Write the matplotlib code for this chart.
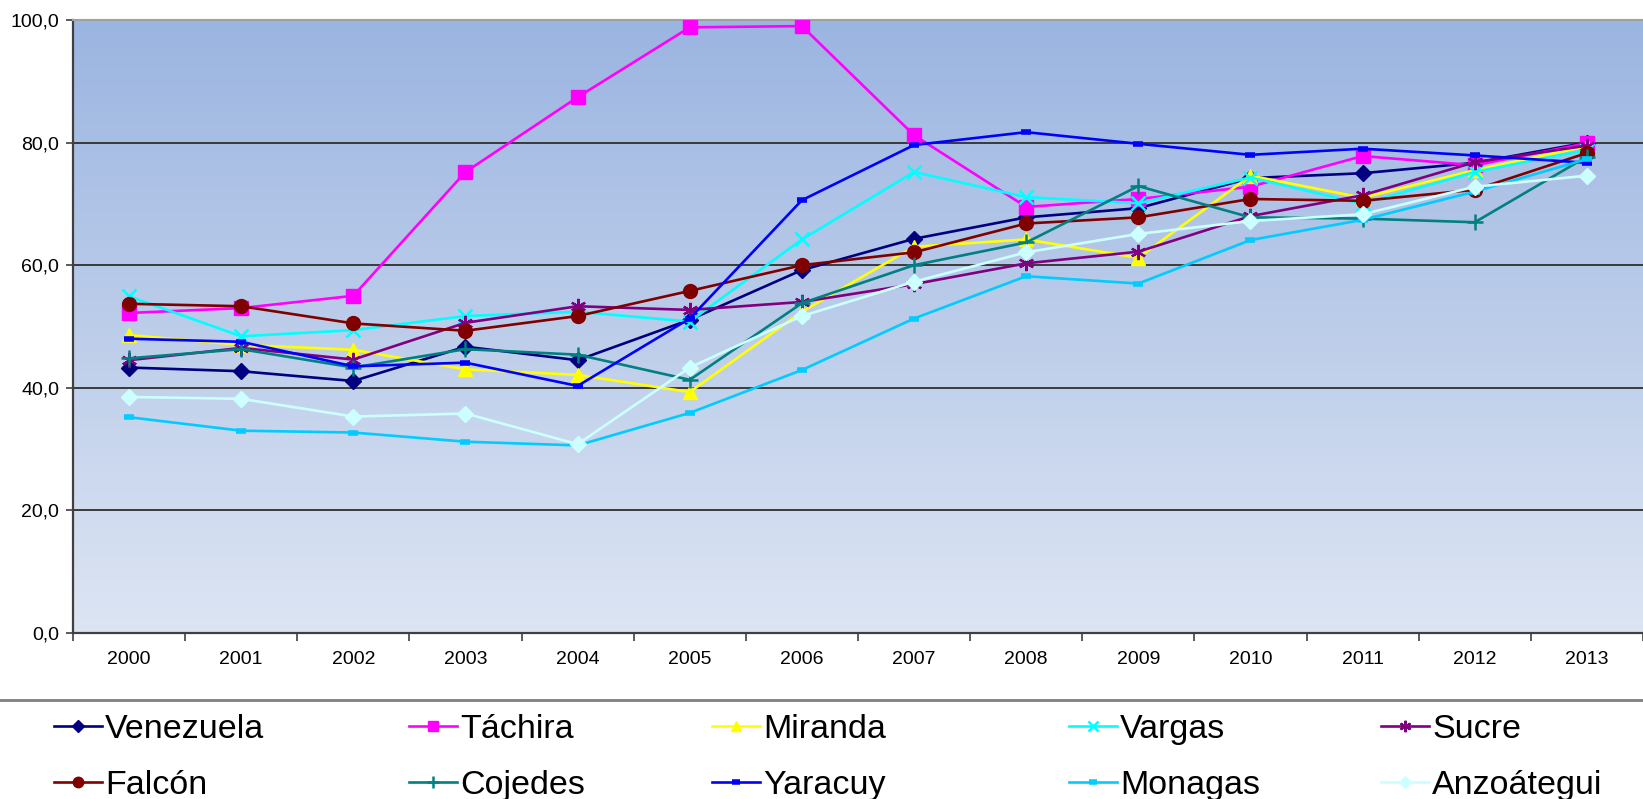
import numpy as np
import matplotlib.pyplot as plt
from matplotlib.lines import Line2D

years = ['2000', '2001', '2002', '2003', '2004', '2005', '2006',
         '2007', '2008', '2009', '2010', '2011', '2012', '2013']

venezuela = [43.3, 42.7, 41.1, 46.7, 44.5, 51.1, 59.2, 64.3, 67.8, 69.3, 74.2, 75.0, 76.7, 80.0]
tachira = [52.2, 53.0, 55.0, 75.2, 87.4, 98.8, 99.0, 81.2, 69.5, 70.8, 72.8, 77.8, 76.3, 79.9]
miranda = [48.6, 47.0, 46.2, 43.0, 42.1, 39.3, 52.4, 63.0, 64.2, 61.2, 74.6, 71.0, 75.5, 79.4]
vargas = [54.9, 48.4, 49.4, 51.7, 52.4, 50.8, 64.2, 75.2, 71.1, 70.1, 74.3, 70.0, 75.2, 78.8]
sucre = [44.5, 46.5, 44.6, 50.6, 53.3, 52.7, 54.0, 56.9, 60.3, 62.2, 68.0, 71.4, 76.8, 79.5]
falcon = [53.7, 53.3, 50.5, 49.3, 51.7, 55.8, 60.0, 62.1, 66.8, 67.8, 70.8, 70.5, 72.3, 78.3]
cojedes = [44.8, 46.3, 43.3, 46.3, 45.4, 41.3, 53.8, 60.0, 63.7, 72.9, 67.8, 67.6, 67.0, 77.7]
yaracuy = [48.0, 47.5, 43.5, 44.1, 40.3, 51.3, 70.6, 79.6, 81.7, 79.8, 78.0, 79.0, 77.9, 76.7]
monagas = [35.2, 33.0, 32.7, 31.2, 30.6, 35.9, 42.9, 51.3, 58.2, 57.0, 64.1, 67.4, 72.0, 77.3]
anzoategui = [38.5, 38.2, 35.3, 35.8, 30.8, 43.3, 51.7, 57.3, 62.1, 65.1, 67.2, 68.3, 72.8, 74.6]

names = ['Venezuela', 'Táchira', 'Miranda', 'Vargas', 'Sucre',
         'Falcón', 'Cojedes', 'Yaracuy', 'Monagas', 'Anzoátegui']
values = [venezuela, tachira, miranda, vargas, sucre,
          falcon, cojedes, yaracuy, monagas, anzoategui]
colors = ['#000080', '#FF00FF', '#FFFF00', '#00FFFF', '#800080',
          '#800000', '#008080', '#0000FF', '#00CCFF', '#CCFFFF']
markers = ['D', 's', '^', 'x', (6, 2, 0), 'o', '+', '_', '_', 'D']
msizes = [8, 10, 10, 10, 11, 10, 11, 7, 7, 8]
mews = [1, 1, 1, 1.8, 1.6, 1, 1.8, 4, 4, 1]

plt.rcParams['font.family'] = ['Liberation Sans', 'DejaVu Sans']

fig = plt.figure(figsize=(16.43, 7.99), dpi=100)
ax = fig.add_axes([0.0444, 0.2078, 0.9556, 0.7672])

# gradient background
grad = np.linspace(0, 1, 256)[:, None, None]
top = np.array([155, 181, 225]) / 255
bottom = np.array([221, 229, 243]) / 255
img = top + (bottom - top) * grad
ax.imshow(img, extent=[0, 1, 0, 1], transform=ax.transAxes, aspect='auto', zorder=0)

x = np.arange(len(years))
lines = []
for name, vals, c, m, ms, mew in zip(names, values, colors, markers, msizes, mews):
    l, = ax.plot(x, vals, color=c, lw=1.9, marker=m, markersize=ms,
                 markerfacecolor=c, markeredgecolor=c, markeredgewidth=mew,
                 label=name, zorder=3)
    lines.append(l)

ax.set_xlim(-0.5, len(years) - 0.5)
ax.set_ylim(0, 100)

ax.set_yticks([0, 20, 40, 60, 80, 100])
ax.set_yticklabels([f'{v:.1f}'.replace('.', ',') for v in [0, 20, 40, 60, 80, 100]])
ax.yaxis.grid(True, color='#3a3a3a', lw=1.4)
ax.set_axisbelow('line')

ax.set_xticks(np.arange(-0.5, len(years), 1))
ax.set_xticklabels([])
ax.set_xticks(x, minor=True)
ax.set_xticklabels(years, minor=True)
ax.tick_params(axis='x', which='major', length=6, width=1.2, color='#404040', direction='out')
ax.tick_params(axis='x', which='minor', length=0, pad=13, labelsize=14)
ax.tick_params(axis='y', length=5, width=1.2, color='#404040', pad=5, labelsize=14)

for s in ['left', 'bottom']:
    ax.spines[s].set_color('#404040')
    ax.spines[s].set_linewidth(1.6)
ax.spines['top'].set_color('#a0a0a0')
ax.spines['top'].set_linewidth(1.5)
ax.spines['right'].set_visible(False)

# separator above legend
fig.add_artist(Line2D([0, 1], [1 - 700 / 799, 1 - 700 / 799], color='#808080', lw=2))

col_x = [54, 409, 712, 1069, 1381]
for i, cx in enumerate(col_x):
    leg = fig.legend([lines[i], lines[i + 5]], [names[i], names[i + 5]],
                     loc='center left', bbox_to_anchor=(cx / 1643, 1 - 757.5 / 799),
                     frameon=False, fontsize=24.5, handlelength=1.4, handletextpad=0.1,
                     labelspacing=0.72, borderpad=0, borderaxespad=0, markerscale=0.75)

fig.savefig('out.png', dpi=100)
